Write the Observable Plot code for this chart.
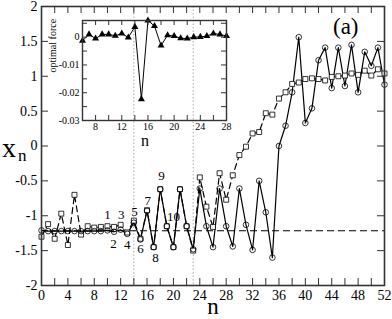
<!DOCTYPE html>
<html><head><meta charset="utf-8">
<script src="https://cdn.jsdelivr.net/npm/d3@7"></script>
<script src="https://cdn.jsdelivr.net/npm/@observablehq/plot@0.6"></script>
<style>
body{margin:0;background:#fff}
#wrap{position:relative;width:392px;height:319px;font-family:"Liberation Serif","DejaVu Serif",serif;color:#000}
#wrap svg{position:absolute;left:0;top:0}
.lbl{position:absolute;line-height:1;white-space:nowrap}
</style></head><body><div id="wrap"></div>
<script>
// ---- data ----
const steps = d3.range(0, 53);
const xCircle = [-1.21,-1.22,-1.22,-1.22,-1.22,-1.22,-1.22,-1.22,-1.22,-1.22,
  -1.21,-1.23,-1.20,-1.26,-1.10,-1.34,-0.93,-1.45,-0.62,-1.15,
  -1.45,-0.62,-1.15,-1.48,-0.61,-1.15,-1.45,-0.61,-1.15,-1.44,
  -0.61,-1.13,-1.49,-0.50,-0.95,-1.60,0.00,0.29,0.77,1.56,
  0.33,0.54,1.23,1.41,0.83,1.41,0.86,1.45,0.77,1.35,
  1.15,1.41,0.88];
const xSquare = [-1.30,-1.12,-1.33,-0.97,-1.42,-0.70,-1.27,-1.15,-1.17,-1.16,
  -1.15,-1.16,-1.13,-1.24,-1.07,-1.33,-0.92,-1.45,-0.62,-1.15,
  -1.45,-0.62,-1.15,-1.50,-0.45,-0.87,-1.16,-0.39,-0.77,-0.42,
  -0.13,-0.01,0.18,0.20,0.47,0.45,0.68,0.77,0.89,0.91,
  0.96,0.97,0.96,0.94,0.99,1.00,1.01,1.04,1.02,1.08,
  1.01,1.10,1.04];
const fixedPoint = -1.215;
const markedSteps = [14, 23];
const labelText = ["1","2","3","4","5","6","7","8","9","10"];
const labelN = [10.0,10.9,12.1,13.0,14.1,15.0,16.1,17.3,18.2,20.0];
const labelV = [-0.99,-1.40,-0.98,-1.41,-0.94,-1.48,-0.79,-1.61,-0.43,-1.01];
const xTickLabels = d3.range(0, 53, 4);
const yTickLabels = [-2,-1.5,-1,-0.5,0,0.5,1,1.5,2];

const insetN = d3.range(6, 29);
const insetForce = [-0.0013,0.0010,-0.0005,0.0010,0.0010,0.0005,0.0013,-0.0001,0.0037,-0.0223,
  0.0060,0.0040,-0.0030,0.0007,0.0004,-0.0004,-0.0005,0.0000,0.0001,0.0004,
  0.0013,0.0010,0.0004];
const insetXTickLabels = [8,12,16,20,24,28];
const insetYTickLabels = [0,-0.01,-0.02,-0.03];

// ---- main chart ----
const W = 392, H = 319;
const mL = 41, mR = 8, mT = 6, mB = 34;
const fw = W - mL - mR, fh = H - mT - mB;
const font = "Liberation Serif, DejaVu Serif, serif";
const circ = steps.map((n, i) => ({n, v: xCircle[i]}));
const sq = steps.map((n, i) => ({n, v: xSquare[i]}));
const labels = labelText.map((t, i) => ({t, n: labelN[i], v: labelV[i]}));
const xMinor = d3.range(0, 53, 2);

const main = Plot.plot({
  width: W, height: H, marginLeft: mL, marginRight: mR, marginTop: mT, marginBottom: mB,
  x: {domain: [0, 52]}, y: {domain: [-2, 2]},
  style: {fontFamily: font, fontSize: "14px", background: "white", color: "#000"},
  marks: [
    Plot.ruleX(markedSteps, {x: d => d, stroke: "#aaa", strokeDasharray: "1.5,2", strokeWidth: 1}),
    Plot.ruleY([fixedPoint], {y: d => d, stroke: "#000", strokeDasharray: "7,4", strokeWidth: 1.2}),
    Plot.line(sq, {x: "n", y: "v", stroke: "#000", strokeDasharray: "6,4", strokeWidth: 1.2}),
    Plot.line(circ, {x: "n", y: "v", stroke: "#000", strokeWidth: 1.2}),
    Plot.dot(sq, {x: "n", y: "v", symbol: "square", r: 2.8, stroke: "#000", fill: "white", strokeWidth: 0.8}),
    Plot.dot(circ, {x: "n", y: "v", r: 2.8, stroke: "#000", fill: "none", strokeWidth: 0.8}),
    Plot.text(labels, {x: "n", y: "v", text: "t", fontSize: 13, fill: "#000"}),
    Plot.tickX(xMinor, {x: d => d, insetTop: fh - 7, stroke: "#333"}),
    Plot.tickX(xMinor, {x: d => d, insetBottom: fh - 7, stroke: "#333"}),
    Plot.tickY(yTickLabels, {y: d => d, insetRight: fw - 7, stroke: "#333"}),
    Plot.tickY(yTickLabels, {y: d => d, insetLeft: fw - 7, stroke: "#333"}),
    Plot.axisX({ticks: xTickLabels, tickSize: 0, tickPadding: 5, label: null, fontSize: 14}),
    Plot.axisY({ticks: yTickLabels, tickSize: 0, tickPadding: 4, label: null, fontSize: 14, tickFormat: d => String(d)}),
    Plot.frame({stroke: "#333", strokeWidth: 1.6})
  ]
});

// ---- inset ----
const iL = 82, iR = 166, iT = 20, iB = 199;
const ifw = W - iL - iR, ifh = H - iT - iB;
const insetData = insetN.map((n, i) => ({n, f: insetForce[i]}));
const inset = Plot.plot({
  width: W, height: H, marginLeft: iL, marginRight: iR, marginTop: iT, marginBottom: iB,
  x: {domain: [6, 28]}, y: {domain: [-0.03, 0.006]},
  style: {fontFamily: font, fontSize: "10px", background: "none", color: "#000"},
  marks: [
    Plot.line(insetData, {x: "n", y: "f", stroke: "#000", strokeWidth: 1}),
    Plot.dot(insetData, {x: "n", y: "f", symbol: "triangle", r: 2.6, fill: "#000", stroke: "none"}),
    Plot.tickX(d3.range(8, 28, 2), {x: d => d, insetTop: ifh - 5, stroke: "#333"}),
    Plot.tickX(d3.range(8, 28, 2), {x: d => d, insetBottom: ifh - 5, stroke: "#333"}),
    Plot.tickY([-0.025,-0.02,-0.015,-0.01,-0.005,0,0.005], {y: d => d, insetRight: ifw - 5, stroke: "#333"}),
    Plot.tickY([-0.025,-0.02,-0.015,-0.01,-0.005,0,0.005], {y: d => d, insetLeft: ifw - 5, stroke: "#333"}),
    Plot.axisX({ticks: insetXTickLabels, tickSize: 0, tickPadding: 2, label: null, fontSize: 10}),
    Plot.axisY({ticks: insetYTickLabels, tickSize: 0, tickPadding: 3, label: null, fontSize: 10, tickFormat: d => String(d)}),
    Plot.text(["optimal force"], {frameAnchor: "left", text: d => d, rotate: -90, dx: -30, dy: 2, fontSize: 10, fill: "#000"}),
    Plot.frame({stroke: "#333", strokeWidth: 1.4})
  ]
});

const wrap = document.getElementById("wrap");
wrap.appendChild(main);
wrap.appendChild(inset);

function addLabel(html, left, top, size, center) {
  const s = document.createElement("span");
  s.className = "lbl";
  s.innerHTML = html;
  s.style.left = left + "px";
  s.style.top = top + "px";
  s.style.fontSize = size + "px";
  if (center) s.style.transform = "translateX(-50%)";
  wrap.appendChild(s);
}
addLabel("n", 213, 295, 23, true);
addLabel("x", 2, 134, 28, false);
addLabel("n", 18, 147, 17, false);
addLabel("n", 145, 133, 16, true);
addLabel("(a)", 333, 15, 23, false);
</script></body></html>
